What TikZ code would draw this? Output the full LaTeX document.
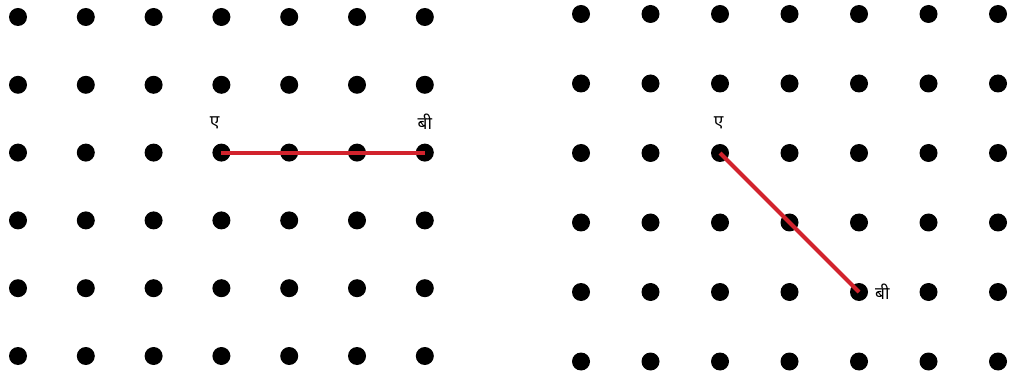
\documentclass[tikz,border=0pt]{standalone}
\usepackage{fontspec}
\usetikzlibrary{positioning}
\newfontfamily\devfont[Script=Devanagari]{Noto Sans}
\definecolor{segred}{RGB}{210,35,45}

\begin{document}
\begin{tikzpicture}[
    x=0.75pt, y=-0.75pt,
    dot/.style={circle, fill=black, inner sep=0pt, minimum size=13.5pt},
    seg/.style={segred, line width=3pt},
    lbl/.style={font=\devfont\fontsize{13}{15}\selectfont, inner sep=1pt}]
    % 画布大小
    \useasboundingbox (0,0) rectangle (1019,377);
    % 左边点阵
    \foreach \i in {0,...,6}
      \foreach \j in {0,...,5}
        \node[dot] (L-\i-\j) at (18+67.8*\i, 17+67.8*\j) {};
    % 右边点阵
    \foreach \i in {0,...,6}
      \foreach \j in {0,...,5}
        \node[dot] (R-\i-\j) at (581+69.5*\i, 14+69.5*\j) {};
    % 左边线段AB
    \draw[seg] (L-3-2.center) -- (L-6-2.center);
    \node[lbl, above=9.5pt of L-3-2, xshift=-5pt] (LA) {ए};
    \node[lbl, above=9.5pt of L-6-2] (LB) {बी};
    % 右边线段AB
    \draw[seg] (R-2-2.center) -- (R-4-4.center);
    \node[lbl, above=9.5pt of R-2-2, xshift=-1pt] (RA) {ए};
    \node[lbl, right=4pt of R-4-4] (RB) {बी};
\end{tikzpicture}
\end{document}
